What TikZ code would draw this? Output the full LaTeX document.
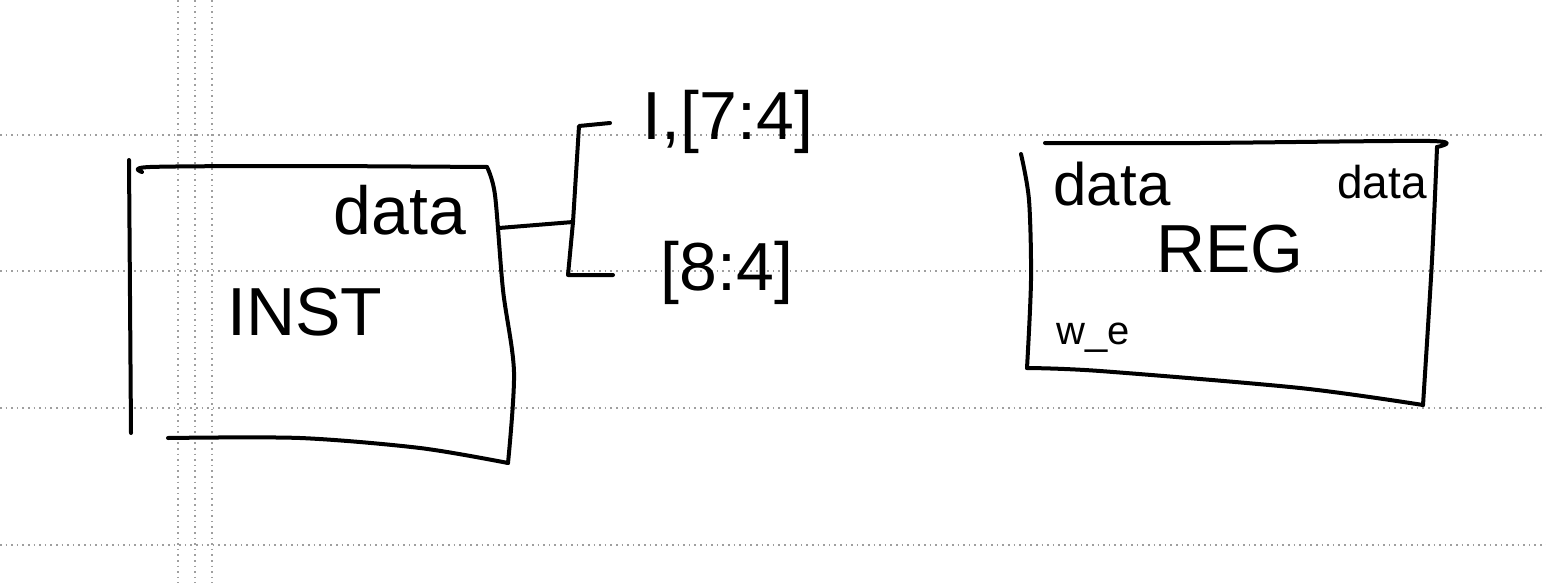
\documentclass[tikz,border=0pt]{standalone}
\usepackage{fontspec}
\setmainfont{Liberation Sans}
\begin{document}
\begin{tikzpicture}[x=0.5pt,y=-0.5pt,
  pen/.style={line width=2pt, line cap=round, line join=round},
  paper/.style={gray!75, line width=0.8pt, dotted},
  lbl/.style={inner sep=0pt, font=\fontsize{34}{38}\selectfont}]
\useasboundingbox (0,0) rectangle (1546,583);
\fill[white] (0,0) rectangle (1546,583);
% lined paper
\foreach \y in {135,271,408,545} \draw[paper] (0,\y) -- (1546,\y);
\foreach \x in {178,195,212} \draw[paper] (\x,0) -- (\x,583);

% INST box
\draw[pen] (129,160) -- (131,433);
\draw[pen] plot[smooth] coordinates {(142,172) (150,167) (300,166) (487,167)};
\draw[pen] plot[smooth] coordinates {(487,167) (495,195) (503,290) (514,372) (508,463)};
\draw[pen] plot[smooth] coordinates {(168,438) (300,438) (420,448) (508,463)};
\node[lbl] (instdata) at (400,210) {data};
\node[lbl] (inst) at (305,312) {INST};

% bus split
\coordinate (dport) at (499,228);
\coordinate (junc) at (573,222);
\coordinate (btop) at (579,126);
\coordinate (hiend) at (610,123);
\coordinate (bbot) at (568,275);
\coordinate (loend) at (613,275);
\draw[pen] (dport) -- (junc);
\draw[pen] (hiend) -- (btop) -- (junc) -- (bbot) -- (loend);
\node[lbl] (hi) at (728,122) {I,[7:4]};
\node[lbl] (lo) at (727,273) {[8:4]};

% REG box
\draw[pen] plot[smooth] coordinates {(1021,154) (1029,200) (1031,280) (1027,368)};
\draw[pen] plot[smooth] coordinates {(1045,143) (1200,143) (1430,141) (1437,147)};
\draw[pen] plot[smooth] coordinates {(1437,147) (1432,260) (1423,405)};
\draw[pen] plot[smooth] coordinates {(1027,368) (1100,371) (1300,388) (1423,405)};
\node[lbl, font=\fontsize{30}{34}\selectfont] (regdin) at (1112,184) {data};
\node[lbl, font=\fontsize{23}{26}\selectfont] (regdout) at (1382,182) {data};
\node[lbl, font=\fontsize{34}{38}\selectfont] (reg) at (1230,249) {REG};
\node[lbl, font=\fontsize{20}{24}\selectfont] (we) at (1093,338) {w\_e};
\end{tikzpicture}
\end{document}
